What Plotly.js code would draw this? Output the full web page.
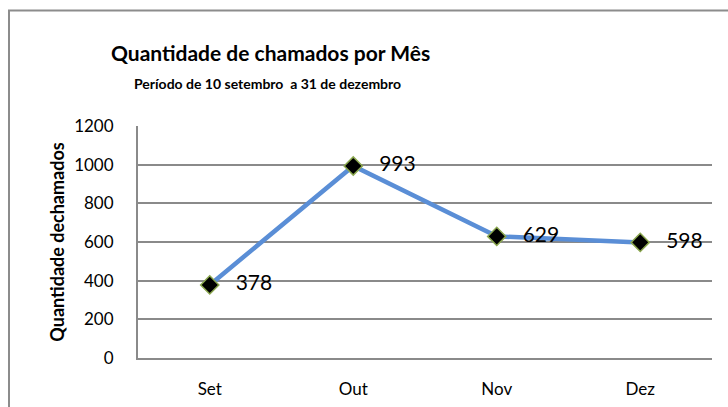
<!DOCTYPE html>
<html><head><meta charset="utf-8">
<script src="https://cdn.plot.ly/plotly-3.0.1.min.js"></script>
<style>html,body{margin:0;padding:0;background:#fff}#chart{width:728px;height:407px}</style>
</head><body><div id="chart"></div>
<script>
const months = ["Set", "Out", "Nov", "Dez"];
const chamados = [378, 993, 629, 598];
const yTicks = [0, 200, 400, 600, 800, 1000, 1200];

const font = "Lato, 'Open Sans', sans-serif";
const L = 138, R = 712, T = 126, B = 358, W = 728, H = 407;
const px = x => (x - L) / (R - L);
const py = y => (B - y) / (B - T);

const trace = {
  x: months, y: chamados, type: "scatter", mode: "lines+markers+text",
  line: {color: "#5A8ED6", width: 4.5},
  marker: {symbol: "diamond", size: 14, color: "#000", line: {color: "#8AA64E", width: 1.5}},
  text: chamados.map(v => "   " + v), textposition: "middle right",
  textfont: {family: font, size: 21, color: "#000"},
  cliponaxis: false, hoverinfo: "none"
};

const layout = {
  width: W, height: H, margin: {l: L, r: W - R, t: T, b: H - B},
  paper_bgcolor: "#fff", plot_bgcolor: "#fff", showlegend: false,
  font: {family: font, color: "#000"},
  xaxis: {type: "category", range: [-0.5, 3.5], showgrid: false, showline: true, linecolor: "#8a8a8a", linewidth: 2,
    ticks: "outside", ticklen: 15, tickcolor: "rgba(0,0,0,0)", tickfont: {family: font, size: 17, color: "#000"}, fixedrange: true},
  yaxis: {range: [0, 1200], tickvals: yTicks, showgrid: true, gridcolor: "#8a8a8a", gridwidth: 2, zeroline: false,
    showline: true, linecolor: "#8a8a8a", linewidth: 2, ticks: "outside", ticklen: 19, tickcolor: "rgba(0,0,0,0)",
    tickfont: {family: font, size: 17, color: "#000"},
    title: {text: "<b>Quantidade dechamados</b>", font: {family: font, size: 18, color: "#000"}, standoff: 5}, fixedrange: true},
  annotations: [
    {text: "<b>Quantidade de chamados por Mês</b>", xref: "paper", yref: "paper", x: px(270), y: py(53), xanchor: "center", yanchor: "middle", showarrow: false, font: {family: font, size: 21, color: "#000"}},
    {text: "<b>Período de 10 setembro  a 31 de dezembro</b>", xref: "paper", yref: "paper", x: px(267), y: py(83), xanchor: "center", yanchor: "middle", showarrow: false, font: {family: font, size: 14, color: "#000"}}
  ],
  shapes: [
    {type: "path", xref: "paper", yref: "paper", path: `M ${px(9)} ${py(H+2)} L ${px(9)} ${py(10.5)} L ${px(W+2)} ${py(10.5)}`, line: {color: "#8c8c8c", width: 2}}
  ]
};
Plotly.newPlot("chart", [trace], layout, {displayModeBar: false, staticPlot: true});
</script></body></html>
